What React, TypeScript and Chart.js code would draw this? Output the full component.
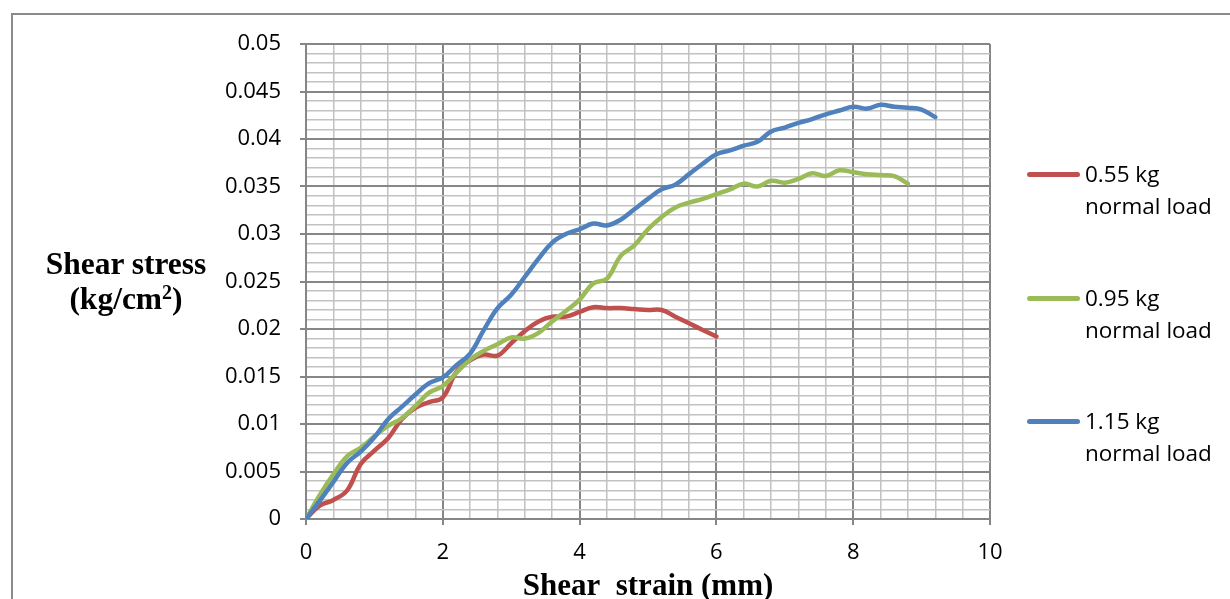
import React, { useEffect, useRef } from "react";
import { Chart, registerables } from "chart.js";

Chart.register(...registerables);

// ---- data ----
const strainRed = [0, 0.2, 0.4, 0.6, 0.8, 1.0, 1.2, 1.4, 1.6, 1.8, 2.0, 2.2, 2.4, 2.6, 2.8, 3.0, 3.2, 3.4, 3.6, 3.8, 4.0, 4.2, 4.4, 4.6, 4.8, 5.0, 5.2, 5.4, 5.6, 5.8, 6.0];
const stressRed = [0, 0.0014, 0.002, 0.003, 0.0058, 0.0072, 0.0085, 0.0105, 0.0117, 0.0123, 0.0128, 0.0155, 0.0167, 0.0173, 0.0172, 0.0185, 0.0198, 0.0208, 0.0213, 0.0213, 0.0218, 0.0223, 0.0222, 0.0222, 0.0221, 0.022, 0.022, 0.0213, 0.0206, 0.0199, 0.0192];

const strainGreen = [0, 0.2, 0.4, 0.6, 0.8, 1.0, 1.2, 1.4, 1.6, 1.8, 2.0, 2.2, 2.4, 2.6, 2.8, 3.0, 3.2, 3.4, 3.6, 3.8, 4.0, 4.2, 4.4, 4.6, 4.8, 5.0, 5.2, 5.4, 5.6, 5.8, 6.0, 6.2, 6.4, 6.6, 6.8, 7.0, 7.2, 7.4, 7.6, 7.8, 8.0, 8.2, 8.4, 8.6, 8.8];
const stressGreen = [0, 0.0025, 0.0047, 0.0066, 0.0075, 0.0087, 0.0098, 0.0106, 0.0119, 0.0133, 0.014, 0.0154, 0.0168, 0.0177, 0.0184, 0.0191, 0.019, 0.0196, 0.0208, 0.0219, 0.0231, 0.0248, 0.0253, 0.0277, 0.0288, 0.0305, 0.0318, 0.0328, 0.0333, 0.0337, 0.0342, 0.0347, 0.0353, 0.035, 0.0356, 0.0354, 0.0358, 0.0364, 0.0361, 0.0367, 0.0365, 0.0363, 0.0362, 0.0361, 0.0353];

const strainBlue = [0, 0.2, 0.4, 0.6, 0.8, 1.0, 1.2, 1.4, 1.6, 1.8, 2.0, 2.2, 2.4, 2.6, 2.8, 3.0, 3.2, 3.4, 3.6, 3.8, 4.0, 4.2, 4.4, 4.6, 4.8, 5.0, 5.2, 5.4, 5.6, 5.8, 6.0, 6.2, 6.4, 6.6, 6.8, 7.0, 7.2, 7.4, 7.6, 7.8, 8.0, 8.2, 8.4, 8.6, 8.8, 9.0, 9.2];
const stressBlue = [0, 0.0019, 0.0039, 0.0059, 0.0071, 0.0086, 0.0105, 0.0118, 0.0131, 0.0143, 0.0149, 0.0162, 0.0174, 0.0199, 0.0222, 0.0236, 0.0255, 0.0274, 0.0291, 0.03, 0.0305, 0.0311, 0.0309, 0.0315, 0.0326, 0.0337, 0.0347, 0.0352, 0.0363, 0.0374, 0.0384, 0.0388, 0.0393, 0.0397, 0.0408, 0.0412, 0.0417, 0.0421, 0.0426, 0.043, 0.0434, 0.0432, 0.0436, 0.0434, 0.0433, 0.0431, 0.0423];

const seriesLoad = ["0.55 kg", "0.95 kg", "1.15 kg"];
const seriesSuffix = "normal load";
const seriesColors = ["#C0504D", "#9BBB59", "#4F81BD"];

const xTitle = "Shear  strain (mm)";
const yTitleLine1 = "Shear stress";
const yTitleUnit = "(kg/cm";
const yTitleSup = "2";

const xMin = 0, xMax = 10, xMinorStep = 0.4, xMajorStep = 2;
const yMin = 0, yMax = 0.05, yMinorStep = 0.001, yMajorStep = 0.005;

const MAJOR = "#868686";
const MINOR = "#c2c2c2";

function isMultiple(v: number, step: number) {
  const r = v / step;
  return Math.abs(r - Math.round(r)) < 1e-6;
}

function toPoints(xs: number[], ys: number[]) {
  return xs.map((x, i) => ({ x, y: ys[i] }));
}

export default function App() {
  const ref = useRef<HTMLCanvasElement | null>(null);

  useEffect(() => {
    if (!ref.current) return;
    const tickFont = { family: "'Open Sans', sans-serif", size: 22 };
    const gridFor = (step: number) => ({
      color: (ctx: any) => (ctx.tick && isMultiple(ctx.tick.value, step) ? MAJOR : MINOR),
      lineWidth: (ctx: any) => (ctx.tick && isMultiple(ctx.tick.value, step) ? 2 : 1.5),
      tickLength: 6,
      tickColor: (ctx: any) => (ctx.tick && isMultiple(ctx.tick.value, step) ? MAJOR : "rgba(0,0,0,0)"),
      tickWidth: 2,
    });
    const pairs = [
      [strainRed, stressRed],
      [strainGreen, stressGreen],
      [strainBlue, stressBlue],
    ];
    const chart = new Chart(ref.current, {
      type: "line",
      data: {
        datasets: pairs.map(([xs, ys], i) => ({
          label: seriesLoad[i] + " " + seriesSuffix,
          data: toPoints(xs, ys),
          borderColor: seriesColors[i],
          backgroundColor: seriesColors[i],
          borderWidth: 4.5,
          pointRadius: 0,
          tension: 0.4,
          fill: false,
          borderCapStyle: "round",
          borderJoinStyle: "round",
          order: 2 - i,
        })),
      },
      options: {
        responsive: false,
        maintainAspectRatio: false,
        animation: false,
        events: [],
        layout: { padding: { top: 44, right: 240, bottom: 0, left: 0 } },
        plugins: { legend: { display: false }, tooltip: { enabled: false } },
        scales: {
          x: {
            type: "linear",
            min: xMin,
            max: xMax,
            ticks: {
              stepSize: xMinorStep,
              autoSkip: false,
              maxRotation: 0,
              font: tickFont,
              color: "#000",
              padding: 15,
              callback: (v: any) => (isMultiple(Number(v), xMajorStep) ? String(Math.round(Number(v))) : ""),
            },
            grid: gridFor(xMajorStep),
            border: { color: MAJOR, width: 2 },
            title: {
              display: true,
              text: xTitle,
              color: "#000",
              font: { family: "'Liberation Serif', 'Times New Roman', serif", size: 31, weight: "bold", lineHeight: 1 },
              padding: { top: 0, bottom: -3 },
            },
            afterFit: (s: any) => {
              s.height = 80;
            },
          },
          y: {
            type: "linear",
            min: yMin,
            max: yMax,
            ticks: {
              stepSize: yMinorStep,
              autoSkip: false,
              maxTicksLimit: 200,
              font: tickFont,
              color: "#000",
              padding: 19,
              callback: (v: any) =>
                isMultiple(Number(v), yMajorStep) ? String(parseFloat(Number(v).toFixed(3))) : "",
            },
            grid: gridFor(yMajorStep),
            border: { color: MAJOR, width: 2 },
            afterFit: (s: any) => {
              s.width = 306;
            },
          },
        },
      },
    } as any);
    return () => chart.destroy();
  }, []);

  return (
    <div
      style={{
        position: "absolute",
        left: 0,
        top: 0,
        width: 1230,
        height: 599,
        overflow: "hidden",
        background: "#fff",
      }}
    >
      <canvas ref={ref} width={1230} height={599} style={{ position: "absolute", left: 0, top: 0 }} />
      <div
        style={{
          position: "absolute",
          left: 11,
          top: 13,
          width: 1300,
          height: 700,
          borderTop: "2px solid #8a8a8a",
          borderLeft: "2px solid #8a8a8a",
          pointerEvents: "none",
        }}
      />
      <div
        style={{
          position: "absolute",
          left: 26,
          top: 246,
          width: 200,
          textAlign: "center",
          fontFamily: "'Liberation Serif', 'Times New Roman', serif",
          fontWeight: "bold",
          fontSize: 31.5,
          lineHeight: "35px",
          color: "#000",
        }}
      >
        <div>{yTitleLine1}</div>
        <div>
          {yTitleUnit}
          <span style={{ fontSize: 20, verticalAlign: "top", lineHeight: "22px" }}>{yTitleSup}</span>)
        </div>
      </div>
      {seriesLoad.map((load, i) => (
        <div key={load} style={{ position: "absolute", left: 1027, top: 158 + i * 123.5, width: 200, height: 64 }}>
          <div
            style={{
              position: "absolute",
              left: 0,
              top: 14,
              width: 53,
              height: 5,
              borderRadius: 3,
              background: seriesColors[i],
            }}
          />
          <div
            style={{
              position: "absolute",
              left: 58,
              top: 0,
              fontFamily: "'Open Sans', sans-serif",
              fontSize: 22.5,
              lineHeight: "32px",
              color: "#000",
              whiteSpace: "nowrap",
            }}
          >
            <div>{load}</div>
            <div>{seriesSuffix}</div>
          </div>
        </div>
      ))}
    </div>
  );
}
